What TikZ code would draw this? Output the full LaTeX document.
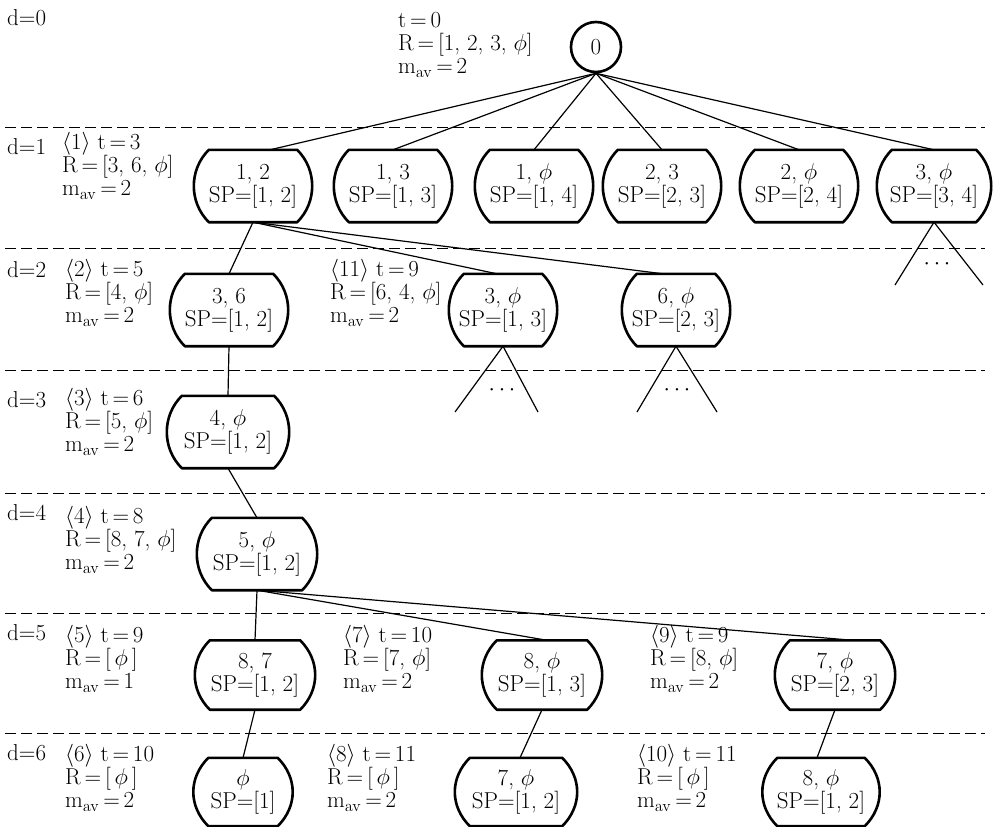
\RequirePackage{fix-cm}
\documentclass[tikz,border=0pt]{standalone}
\usetikzlibrary{calc}
\newcommand\barrelbox[1]{%
  \draw[boxline] ($(#1.north west)+(15,0)$) -- ($(#1.north east)+(-15,0)$)
    .. controls ($(#1.north east)+(5,20)$) and ($(#1.south east)+(5,-20)$) .. ($(#1.south east)+(-15,0)$)
    -- ($(#1.south west)+(15,0)$)
    .. controls ($(#1.south west)+(-5,-20)$) and ($(#1.north west)+(-5,20)$) .. cycle;}
\newcommand\mav{\mathrm{m}_{\mathrm{av}}}
\newcommand\eqs{\,$=$\,}
\begin{document}
\begin{tikzpicture}[x=1pt,y=-1pt,
  every node/.style={font=\fontsize{23}{23}\selectfont, inner sep=0pt},
  bx/.style={minimum width=118pt, minimum height=72pt, align=center},
  info/.style={anchor=west, align=left},
  lvl/.style={anchor=west},
  edge/.style={line width=1.2pt},
  sep/.style={line width=0.9pt, dash pattern=on 11pt off 5pt},
  boxline/.style={line width=2.6pt, line join=round}]
\useasboundingbox (0,0) rectangle (994,827);

% separators
\foreach \yy/\nm in {127/s1,248/s2,370/s3,493/s4,613/s5,733/s6}{
  \coordinate (\nm a) at (5,\yy); \coordinate (\nm b) at (985,\yy);
  \draw[sep] (\nm a) -- (\nm b);}

% level labels
\node[lvl] (d0) at (7,18) {d$=$0};
\node[lvl] (d1) at (7,147) {d$=$1};
\node[lvl] (d2) at (7,270) {d$=$2};
\node[lvl] (d3) at (7,400) {d$=$3};
\node[lvl] (d4) at (7,513) {d$=$4};
\node[lvl] (d5) at (7,633) {d$=$5};
\node[lvl] (d6) at (7,753) {d$=$6};

% info blocks
\node[info] (i0) at (398,45) {t\eqs0\\R\eqs[1, 2, 3, $\phi$]\\$\mav$\eqs2};
\node[info] (i1) at (62,166) {$\langle1\rangle$\ t\eqs3\\R\eqs[3, 6, $\phi$]\\$\mav$\eqs2};
\node[info] (i2) at (65,293) {$\langle2\rangle$\ t\eqs5\\R\eqs[4, $\phi$]\\$\mav$\eqs2};
\node[info] (i11) at (330,293) {$\langle11\rangle$\ t\eqs9\\R\eqs[6, 4, $\phi$]\\$\mav$\eqs2};
\node[info] (i3) at (65,422) {$\langle3\rangle$\ t\eqs6\\R\eqs[5, $\phi$]\\$\mav$\eqs2};
\node[info] (i4) at (65,540) {$\langle4\rangle$\ t\eqs8\\R\eqs[8, 7, $\phi$]\\$\mav$\eqs2};
\node[info] (i5) at (65,659) {$\langle5\rangle$\ t\eqs9\\R\eqs[\,$\phi$\,]\\$\mav$\eqs1};
\node[info] (i7) at (343,659) {$\langle7\rangle$\ t\eqs10\\R\eqs[7, $\phi$]\\$\mav$\eqs2};
\node[info] (i9) at (650,659) {$\langle9\rangle$\ t\eqs9\\R\eqs[8, $\phi$]\\$\mav$\eqs2};
\node[info] (i6) at (65,778) {$\langle6\rangle$\ t\eqs10\\R\eqs[\,$\phi$\,]\\$\mav$\eqs2};
\node[info] (i8) at (327,778) {$\langle8\rangle$\ t\eqs11\\R\eqs[\,$\phi$\,]\\$\mav$\eqs2};
\node[info] (i10) at (637,778) {$\langle10\rangle$\ t\eqs11\\R\eqs[\,$\phi$\,]\\$\mav$\eqs2};

% root
\node[circle, draw, line width=2.6pt, minimum size=50pt] (r) at (596,47) {0};

% level 1
\node[bx] (a12) at (253,186) {1, 2\\SP$=$[1, 2]};
\node[bx] (a13) at (393,186) {1, 3\\SP$=$[1, 3]};
\node[bx] (a1p) at (534,186) {1, $\phi$\\SP$=$[1, 4]};
\node[bx] (a23) at (662,186) {2, 3\\SP$=$[2, 3]};
\node[bx] (a2p) at (799,186) {2, $\phi$\\SP$=$[2, 4]};
\node[bx, minimum width=114pt] (a3p) at (934,186) {3, $\phi$\\SP$=$[3, 4]};

% level 2
\node[bx] (b36) at (229,310) {3, 6\\SP$=$[1, 2]};
\node[bx, minimum width=108pt] (b3p) at (503,310) {3, $\phi$\\SP$=$[1, 3]};
\node[bx, minimum width=108pt] (b6p) at (676,310) {6, $\phi$\\SP$=$[2, 3]};

% level 3
\node[bx, minimum width=122pt] (c4p) at (228,432) {4, $\phi$\\SP$=$[1, 2]};
% level 4
\node[bx, minimum width=120pt] (d5p) at (257,554) {5, $\phi$\\SP$=$[1, 2]};
% level 5
\node[bx, minimum width=120pt, minimum height=69pt] (e87) at (255,675) {8, 7\\SP$=$[1, 2]};
\node[bx, minimum width=120pt, minimum height=69pt] (e8p) at (542,675) {8, $\phi$\\SP$=$[1, 3]};
\node[bx, minimum width=120pt, minimum height=69pt] (e7p) at (835,675) {7, $\phi$\\SP$=$[2, 3]};
% level 6
\node[bx, minimum width=99pt, minimum height=68pt] (fp) at (243,792) {$\phi$\\SP$=$[1]};
\node[bx, minimum width=122pt, minimum height=68pt] (f7p) at (516,792) {7, $\phi$\\SP$=$[1, 2]};
\node[bx, minimum width=117pt, minimum height=68pt] (f8p) at (821,792) {8, $\phi$\\SP$=$[1, 2]};

% connectors
\draw[edge] (r.south) -- ($(a12.north)+(17,0)$);
\foreach \c in {a13,a1p,a23,a2p,a3p} \draw[edge] (r.south) -- (\c.north);
\draw[edge] (a12.south) -- (b36.north);
\draw[edge] (a12.south) -- ($(b3p.north)+(-6,0)$);
\draw[edge] (a12.south) -- ($(b6p.north)+(-13,0)$);
\draw[edge] (b36.south) -- (c4p.north);
\draw[edge] (c4p.south) -- (d5p.north);
\draw[edge] (d5p.south) -- (e87.north);
\draw[edge] (d5p.south) -- ($(e8p.north)+(5,0)$);
\draw[edge] (d5p.south) -- ($(e7p.north)+(18,0)$);
\draw[edge] (e87.south) -- (fp.north);
\draw[edge] (e8p.south) -- ($(f7p.north)+(4,0)$);
\draw[edge] (e7p.south) -- ($(f8p.north)+(-4,0)$);

% open subtrees
\coordinate (t1l) at (895,285); \coordinate (t1r) at (983,285);
\draw[edge] (t1l) -- (a3p.south) -- (t1r);
\node (t1d) at (937,264) {$\cdots$};
\coordinate (t2l) at (455,412); \coordinate (t2r) at (538,412);
\draw[edge] (t2l) -- (b3p.south) -- (t2r);
\node (t2d) at (502,390) {$\cdots$};
\coordinate (t3l) at (637,412); \coordinate (t3r) at (717,412);
\draw[edge] (t3l) -- (b6p.south) -- (t3r);
\node (t3d) at (677,390) {$\cdots$};

% box outlines
\foreach \b in {a12,a13,a1p,a23,a2p,a3p,b36,b3p,b6p,c4p,d5p,e87,e8p,e7p,fp,f7p,f8p} {\barrelbox{\b}}
\end{tikzpicture}
\end{document}
